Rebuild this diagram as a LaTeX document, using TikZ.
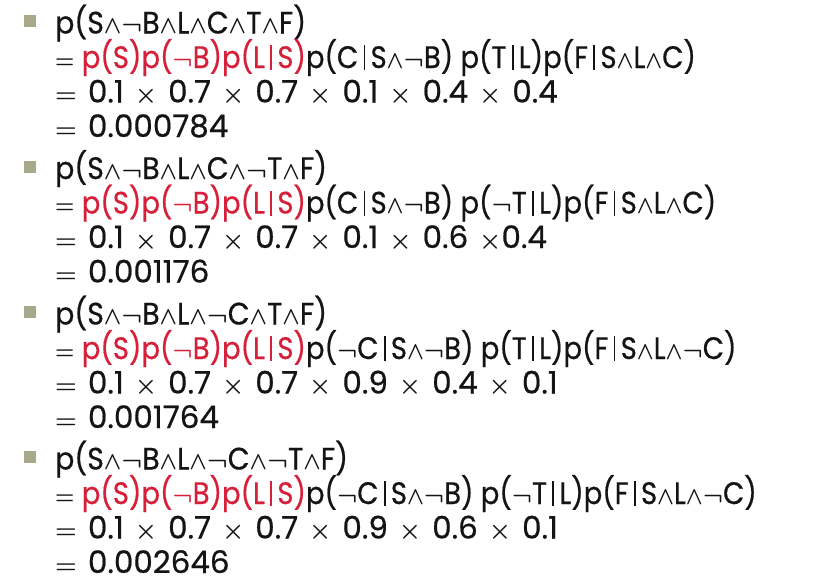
\documentclass[tikz,border=0pt]{standalone}
\usepackage{fontspec}
\usepackage{graphicx}
\setmainfont{Poppins}[FakeBold=0.6]
\usetikzlibrary{positioning}
\definecolor{slidered}{RGB}{214,32,58}
\definecolor{bulletgrey}{RGB}{168,168,138}
\definecolor{inkblack}{RGB}{20,20,20}
\newcommand{\andsym}{\ensuremath{\wedge}}
\newcommand{\notsym}{\scalebox{1.2}[1]{\ensuremath{\neg}}}
\newcommand{\given}{\hspace{6pt}\rule[-2pt]{2pt}{25pt}\hspace{6pt}}
\newcommand{\by}{\ensuremath{\times}}
\newcommand{\equ}{\ensuremath{=}}
\newcommand{\prior}{\textcolor{slidered}{p(S)p(\notsym B)p(L\given S)}}
\newcommand{\squeeze}[2]{\scalebox{#1}[1]{#2}}
\newcommand{\widespaces}{\spaceskip=11pt\relax}

\begin{document}
\begin{tikzpicture}[x=1pt, y=-1pt,
  line/.style = {anchor=base west, inner sep=0pt, text=inkblack, font=\fontsize{31}{35}\selectfont\boldmath},
  numline/.style = {line},
  bullet/.style = {fill=bulletgrey, minimum size=12pt, inner sep=0pt},
  node distance=34.5pt]
\useasboundingbox (0,0) rectangle (836,582);
% first case
\node[bullet] (b1) at (30,21) {};
\node[line] (l11) at (55,33.5) {\squeeze{0.915}{p(S\andsym\notsym B\andsym L\andsym C\andsym T\andsym F)}};
\node[line, below=of l11.base west, anchor=base west] (l12) {\squeeze{0.886}{\equ{} \prior p(C\given S\andsym\notsym B) p(T\given L)p(F\given S\andsym L\andsym C)}};
\node[numline, below=of l12.base west, anchor=base west] (l13) {\widespaces\equ{} 0.1 \by{} 0.7 \by{} 0.7 \by{} 0.1 \by{} 0.4 \by{} 0.4};
\node[numline, below=of l13.base west, anchor=base west] (l14) {\widespaces\equ{} 0.000784};
% second case
\node[bullet] (b2) at (30,167) {};
\node[line] (l21) at (55,179) {\squeeze{0.915}{p(S\andsym\notsym B\andsym L\andsym C\andsym\notsym T\andsym F)}};
\node[line, below=of l21.base west, anchor=base west] (l22) {\squeeze{0.886}{\equ{} \prior p(C\given S\andsym\notsym B) p(\notsym T\given L)p(F\given S\andsym L\andsym C)}};
\node[numline, below=of l22.base west, anchor=base west] (l23) {\widespaces\equ{} 0.1 \by{} 0.7 \by{} 0.7 \by{} 0.1 \by{} 0.6 \by0.4};
\node[numline, below=of l23.base west, anchor=base west] (l24) {\widespaces\equ{} 0.001176};
% third case
\node[bullet] (b3) at (30,312) {};
\node[line] (l31) at (55,324.5) {\squeeze{0.915}{p(S\andsym\notsym B\andsym L\andsym\notsym C\andsym T\andsym F)}};
\node[line, below=of l31.base west, anchor=base west] (l32) {\squeeze{0.886}{\equ{} \prior p(\notsym C\given S\andsym\notsym B) p(T\given L)p(F\given S\andsym L\andsym\notsym C)}};
\node[numline, below=of l32.base west, anchor=base west] (l33) {\widespaces\equ{} 0.1 \by{} 0.7 \by{} 0.7 \by{} 0.9 \by{} 0.4 \by{} 0.1};
\node[numline, below=of l33.base west, anchor=base west] (l34) {\widespaces\equ{} 0.001764};
% fourth case
\node[bullet] (b4) at (30,457) {};
\node[line] (l41) at (55,469.5) {\squeeze{0.915}{p(S\andsym\notsym B\andsym L\andsym\notsym C\andsym\notsym T\andsym F)}};
\node[line, below=of l41.base west, anchor=base west] (l42) {\squeeze{0.886}{\equ{} \prior p(\notsym C\given S\andsym\notsym B) p(\notsym T\given L)p(F\given S\andsym L\andsym\notsym C)}};
\node[numline, below=of l42.base west, anchor=base west] (l43) {\widespaces\equ{} 0.1 \by{} 0.7 \by{} 0.7 \by{} 0.9 \by{} 0.6 \by{} 0.1};
\node[numline, below=of l43.base west, anchor=base west] (l44) {\widespaces\equ{} 0.002646};
\end{tikzpicture}
\end{document}
